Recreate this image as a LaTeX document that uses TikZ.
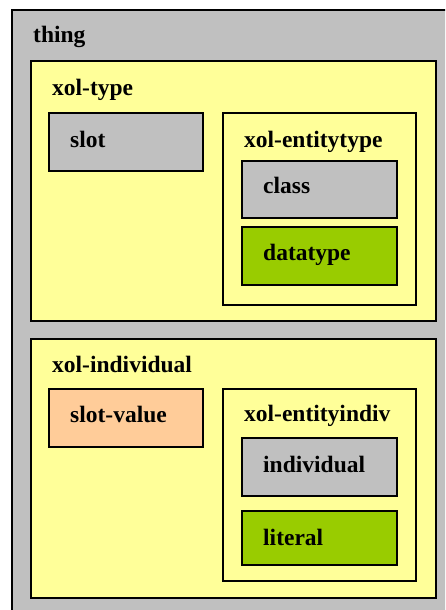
\documentclass[tikz,border=0pt]{standalone}
\usepackage{fontspec}
\setmainfont{Liberation Serif}
\definecolor{cgray}{HTML}{C0C0C0}
\definecolor{cyellow}{HTML}{FFFF99}
\definecolor{cgreen}{HTML}{99CC00}
\definecolor{corange}{HTML}{FFCC99}
\tikzset{
  box/.style={draw=black, line width=2pt},
  lbl/.style={anchor=base west, inner sep=0pt, font=\fontsize{23.5}{28}\selectfont\bfseries}
}
\begin{document}
\begin{tikzpicture}[x=1pt,y=-1pt]
\clip (0,0) rectangle (445,610);
\fill[white] (0,0) rectangle (445,610);
% thing
\draw[box, fill=cgray] (12,10) rectangle (460,630);
\node[lbl] (thing) at (33,43) {thing};
% xol-type
\draw[box, fill=cyellow] (31,61) rectangle (435.5,320.5);
\node[lbl] (xoltype) at (52,95) {xol-type};
\draw[box, fill=cgray] (49,113) rectangle (203,171);
\node[lbl] (slot) at (70,147) {slot};
\draw[box, fill=cyellow] (222.5,113) rectangle (415.5,305);
\node[lbl] (xolentitytype) at (244,147) {xol-entitytype};
\draw[box, fill=cgray] (242,161) rectangle (397,218);
\node[lbl] (class) at (263,193) {class};
\draw[box, fill=cgreen] (242,227) rectangle (397,285);
\node[lbl] (datatype) at (263,260) {datatype};
% xol-individual
\draw[box, fill=cyellow] (31,339) rectangle (435.5,598);
\node[lbl] (xolindividual) at (52,372) {xol-individual};
\draw[box, fill=corange] (49,389) rectangle (203,447);
\node[lbl] (slotvalue) at (70,422) {slot-value};
\draw[box, fill=cyellow] (222.5,389) rectangle (415.5,581);
\node[lbl] (xolentityindiv) at (244,421) {xol-entityindiv};
\draw[box, fill=cgray] (242,438) rectangle (397,496);
\node[lbl] (individual) at (263,472) {individual};
\draw[box, fill=cgreen] (242,511) rectangle (397,565);
\node[lbl] (literal) at (263,545) {literal};
\end{tikzpicture}
\end{document}
